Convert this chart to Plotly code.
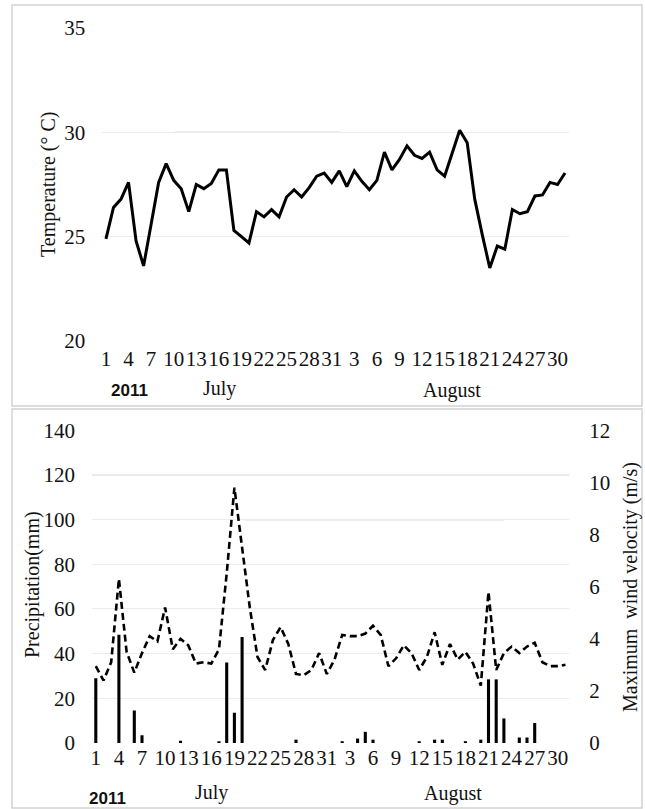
import plotly.graph_objects as go

# Daily series, 1 July - 31 August 2011 (62 days)
temperature = [
    24.9, 26.4, 26.8, 27.6, 24.8, 23.6, 25.6, 27.6, 28.5, 27.7,
    27.3, 26.2, 27.5, 27.3, 27.55, 28.2, 28.2, 25.3, 25.0, 24.7,
    26.2, 25.95, 26.3, 25.95, 26.9, 27.25, 26.9, 27.35, 27.9, 28.05,
    27.6, 28.15, 27.4, 28.15, 27.65, 27.25, 27.7, 29.05, 28.2, 28.7,
    29.35, 28.9, 28.75, 29.05, 28.2, 27.9, 29.0, 30.1, 29.5, 26.8,
    25.1, 23.5, 24.55, 24.4, 26.3, 26.1, 26.2, 26.95, 27.0, 27.6,
    27.5, 28.05,
]
precipitation = [
    29, 0, 0, 48.5, 0, 14.5, 3.5, 0, 0, 0,
    0, 1, 0, 0, 0, 0, 0.8, 36, 13.5, 47.5,
    0, 0, 0, 0, 0, 0, 1.5, 0, 0, 0,
    0, 0, 0.8, 0, 2, 5, 1.5, 0, 0, 0,
    0, 0, 0.8, 0, 1.5, 1.5, 0, 0, 0.8, 0,
    1.5, 28.5, 28.5, 11, 0, 2.5, 2.5, 9, 0, 0,
    0, 0,
]
wind_max = [
    2.95, 2.4, 3.1, 6.3, 3.5, 2.7, 3.45, 4.1, 3.9, 5.2,
    3.6, 4.0, 3.75, 3.05, 3.1, 3.05, 3.6, 6.5, 9.8, 7.4,
    5.2, 3.3, 2.8, 3.95, 4.45, 3.8, 2.65, 2.6, 2.8, 3.45,
    2.65, 3.2, 4.15, 4.1, 4.1, 4.2, 4.5, 4.15, 2.95, 3.25,
    3.75, 3.45, 2.8, 3.3, 4.25, 3.0, 3.8, 3.2, 3.5, 3.05,
    2.2, 5.8, 2.8, 3.45, 3.7, 3.45, 3.7, 3.85, 3.1, 2.95,
    2.95, 3.0,
]
tick_labels = ["1", "4", "7", "10", "13", "16", "19", "22", "25", "28", "31",
               "3", "6", "9", "12", "15", "18", "21", "24", "27", "30"]
tick_positions = list(range(0, 61, 3))
days = list(range(len(temperature)))

W, H = 645, 809
SERIF = "Liberation Serif, Times New Roman, serif"
INK = "#111111"
GRID = "#ececec"


def fx(px):
    return px / W


def fy(py):
    return 1 - py / H


fig = go.Figure()

fig.add_trace(go.Scatter(
    x=days, y=temperature, mode="lines", xaxis="x", yaxis="y",
    line=dict(color="black", width=3), showlegend=False,
))
fig.add_trace(go.Bar(
    x=days, y=precipitation, xaxis="x2", yaxis="y2",
    marker=dict(color="black", line=dict(width=0)), width=0.4, showlegend=False,
))
fig.add_trace(go.Scatter(
    x=days, y=wind_max, mode="lines", xaxis="x2", yaxis="y3",
    line=dict(color="black", width=2.6, dash="7px,4px"), showlegend=False,
))

tick_font = dict(family=SERIF, size=21, color=INK)
xcommon = dict(
    range=[-0.5, 61.5], tickmode="array", tickvals=tick_positions, ticktext=tick_labels,
    tickangle=0, automargin=False,
    showgrid=False, zeroline=False, showline=False, ticks="", tickfont=tick_font,
)
ycommon = dict(
    showgrid=True, gridcolor=GRID, gridwidth=1, zeroline=False, showline=False,
    ticks="", tickfont=tick_font, automargin=False,
)

fig.update_layout(
    width=W, height=H, autosize=False,
    margin=dict(l=0, r=0, t=0, b=0),
    paper_bgcolor="white", plot_bgcolor="white",
    font=dict(family=SERIF, size=20, color=INK),
    bargap=0.6,
    xaxis=dict(domain=[fx(102.2), fx(568.8)], anchor="y", ticklabelstandoff=3, **xcommon),
    yaxis=dict(domain=[fy(341.1), fy(27.9)], anchor="x", range=[20, 35],
               tickvals=[20, 25, 30, 35], ticklabelstandoff=16, **ycommon),
    xaxis2=dict(domain=[fx(91.95), fx(569.35)], anchor="y2", ticklabelstandoff=0, **xcommon),
    yaxis2=dict(domain=[fy(743), fy(430.3)], anchor="x2", range=[0, 140],
                tickvals=[0, 20, 40, 60, 80, 100, 120, 140], ticklabelstandoff=16, **ycommon),
    yaxis3=dict(overlaying="y2", side="right", anchor="x2", range=[0, 12],
                tickvals=[0, 2, 4, 6, 8, 10, 12], showgrid=False, zeroline=False,
                showline=False, ticks="", ticklabelstandoff=19, tickfont=tick_font,
                automargin=False),
)

# Panel frames and the more pronounced grid segments
shapes = [
    dict(type="rect", xref="paper", yref="paper", x0=fx(12), x1=fx(642), y0=fy(406), y1=fy(5),
         line=dict(color="#d2d2d2", width=1.5), fillcolor="rgba(0,0,0,0)", layer="below"),
    dict(type="rect", xref="paper", yref="paper", x0=fx(12), x1=fx(642), y0=fy(808), y1=fy(409),
         line=dict(color="#d2d2d2", width=1.5), fillcolor="rgba(0,0,0,0)", layer="below"),
    dict(type="line", xref="x", yref="y", x0=9.2, x1=31.1, y0=30, y1=30,
         line=dict(color="#dcdcdc", width=1.5), layer="below"),
    dict(type="line", xref="x2", yref="y2", x0=-0.5, x1=61.5, y0=120, y1=120,
         line=dict(color="#e0e0e0", width=1.5), layer="below"),
    dict(type="line", xref="x2", yref="y2", x0=19.4, x1=53.0, y0=100, y1=100,
         line=dict(color="#dcdcdc", width=1.5), layer="below"),
]
fig.update_layout(shapes=shapes)

annotations = [
    # axis titles
    dict(text="Temperature (° C)", x=fx(48), y=fy(185), textangle=-90),
    dict(text="Precipitation(mm)", x=fx(32), y=fy(585), textangle=-90),
    dict(text="Maximum  wind velocity (m/s)", x=fx(630), y=fy(587), textangle=-90),
    # month labels under the day ticks
    dict(text="July", x=fx(219), y=fy(388)),
    dict(text="August", x=fx(452), y=fy(390)),
    dict(text="July", x=fx(211), y=fy(792)),
    dict(text="August", x=fx(453), y=fy(793)),
]
for a in annotations:
    a.update(xref="paper", yref="paper", showarrow=False, xanchor="center", yanchor="middle",
             font=dict(family=SERIF, size=20, color=INK))
for xpos, ypos in [(129, 390), (107, 798)]:
    annotations.append(dict(
        text="<b>2011</b>", x=fx(xpos), y=fy(ypos), xref="paper", yref="paper",
        showarrow=False, xanchor="center", yanchor="middle",
        font=dict(family="Liberation Sans Narrow, Liberation Sans", size=17, color=INK),
    ))
fig.update_layout(annotations=annotations)

fig.write_html("out.html")
